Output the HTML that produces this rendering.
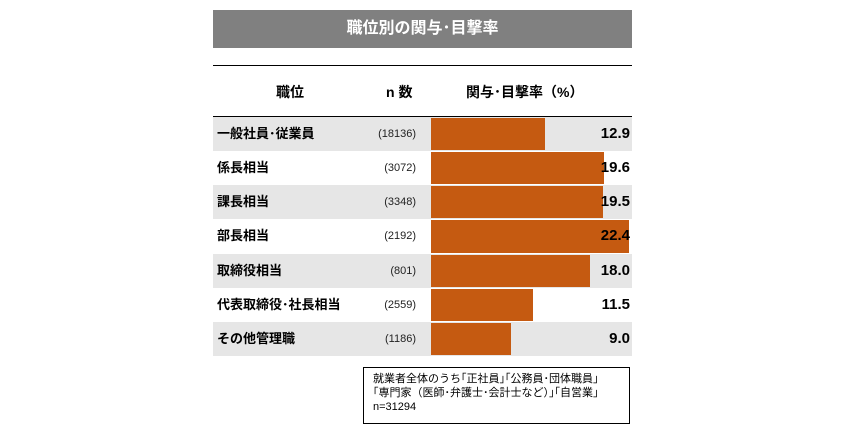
<!DOCTYPE html>
<html><head><meta charset="utf-8"><style>
body{margin:0;width:846px;height:440px;background:#fff;font-family:"Liberation Sans","Noto Sans CJK JP",sans-serif;position:relative;overflow:hidden}
.abs{position:absolute}
#title{left:213px;top:10px;width:419px;height:38px;background:#808080;color:#fff;font-weight:bold;font-size:16px;line-height:38px;text-align:center}
.hl{left:213px;width:419px;height:1px;background:#000}
.hdr{top:82px;font-weight:bold;font-size:14px}
.row{left:213px;width:419px}
.lab{left:217px;font-weight:bold;font-size:13px}
.n{font-size:11px;color:#222;text-align:right;width:60px;left:356px}
.bar{background:#c55a11}
.val{font-weight:bold;font-size:15px;text-align:right;width:80px;left:550px}
#note{left:363px;top:367px;width:267px;height:57px;border:1px solid #000;font-size:11px;line-height:14px;padding:4px 0 0 9px;box-sizing:border-box}
</style></head><body>
<div id="title" class="abs">職位別の関与･目撃率</div>
<div class="abs hl" style="top:65px"></div>
<div class="abs hdr" style="left:276px">職位</div>
<div class="abs hdr" style="left:386px">n 数</div>
<div class="abs hdr" style="left:466px">関与･目撃率（%）</div>
<div class="abs hl" style="top:116px"></div>
<div id="rows"></div>
<div id="note" class="abs">就業者全体のうち｢正社員｣｢公務員･団体職員｣<br>｢専門家（医師･弁護士･会計士など）｣｢自営業｣<br>n=31294</div>
<script>
const categories=["一般社員･従業員","係長相当","課長相当","部長相当","取締役相当","代表取締役･社長相当","その他管理職"];
const nCounts=["18136","3072","3348","2192","801","2559","1186"];
const values=[12.9,19.6,19.5,22.4,18.0,11.5,9.0];
const x0=431,scale=8.84,top0=117,rh=34.15;
const root=document.getElementById('rows');
function mk(cls,style,txt){const d=document.createElement('div');d.className='abs '+cls;d.style.cssText=style;if(txt!=null)d.textContent=txt;root.appendChild(d);return d;}
categories.forEach((c,i)=>{
 const y=top0+i*rh;
 if(i%2===0){const r=mk('row',`top:${y}px;height:${rh}px;background:#e6e6e6`);
 
 }
 const l=mk('lab',`top:${y}px;line-height:${rh}px`,c);
 
 
 const n=mk('n',`top:${y}px;line-height:${rh}px`,'('+nCounts[i]+')');
 
 
 const b=mk('bar',`left:${x0}px;top:${y+1}px;height:${rh-2}px;width:${values[i]*scale}px`);
 
 
 const v=mk('val',`top:${y}px;line-height:${rh}px`,values[i].toFixed(1));
 
 
});
</script>
</body></html>
